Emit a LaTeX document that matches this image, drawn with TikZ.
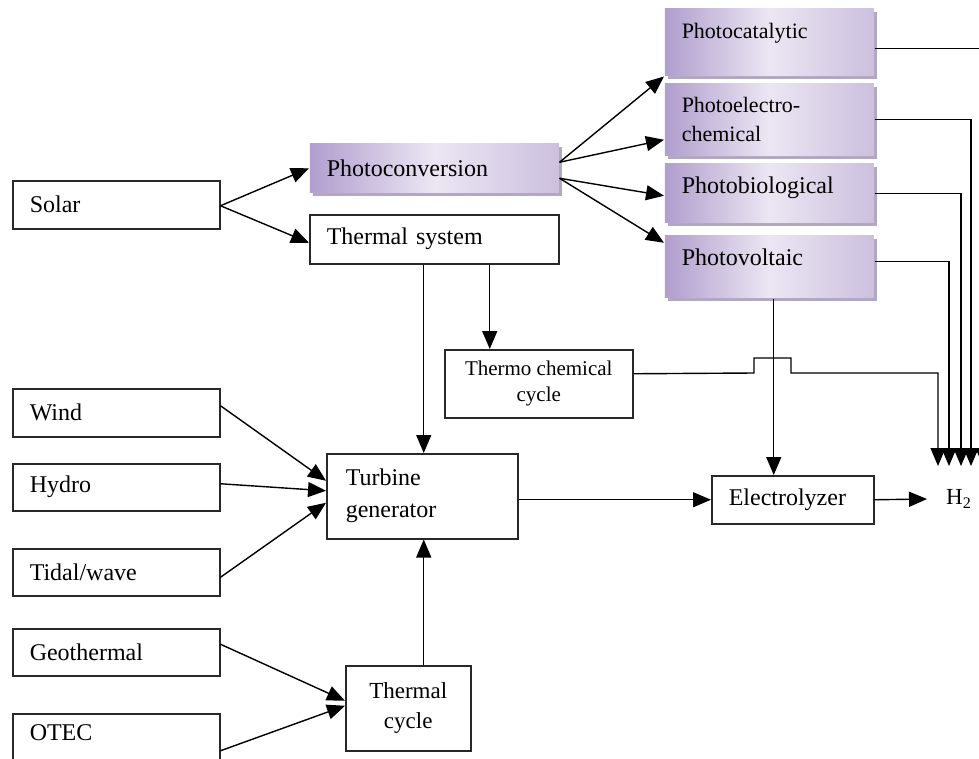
\documentclass[tikz,border=0pt]{standalone}
\usepackage{fontspec}
\setmainfont{Liberation Serif}
\usetikzlibrary{arrows.meta,shadows}
\definecolor{pdark}{RGB}{176,158,205}
\definecolor{plight}{RGB}{236,230,243}
\definecolor{pmid}{RGB}{204,192,222}
\definecolor{pshadow}{RGB}{170,160,186}
\definecolor{bord}{RGB}{40,40,40}
\tikzset{
  box/.style={draw=bord, line width=1.5pt, anchor=north west, inner xsep=17pt, inner ysep=0pt,
    align=left, font=\fontsize{24}{32}\selectfont},
  pbox/.style={box, draw=none, left color=pdark, right color=pmid, middle color=plight,
    drop shadow={shadow xshift=3pt, shadow yshift=-3pt, fill=pshadow, opacity=0.9}},
  arr/.style={draw=black, line width=1.4pt, -{Triangle[length=18pt,width=15pt]}},
}
\begin{document}
\begin{tikzpicture}[x=1pt,y=-1pt]
\useasboundingbox (0,0) rectangle (979,758);
\clip (0,0) rectangle (979,758);
% left sources
\node[box, minimum width=207pt, minimum height=48pt, text width=173pt] (solar) at (12,180) {Solar};
\node[box, minimum width=207pt, minimum height=48pt, text width=173pt] (wind) at (12,388) {Wind};
\node[box, minimum width=207pt, minimum height=47pt, text width=173pt] (hydro) at (12,463) {Hydro};
\node[box, minimum width=207pt, minimum height=47pt, text width=173pt] (tidal) at (12,548) {Tidal/wave};
\node[box, minimum width=207pt, minimum height=47pt, text width=173pt] (geo) at (12,628) {Geothermal};
\node[box, minimum width=207pt, minimum height=50pt, text width=173pt, text depth=12pt] (otec) at (12,713) {OTEC};
% middle
\node[pbox, minimum width=249pt, minimum height=49pt, text width=215pt] (photoconv) at (309,143) {Photoconversion};
\node[box, minimum width=249pt, minimum height=49pt, text width=215pt] (thermsys) at (309,214) {Thermal system};
% photo boxes
\node[pbox, minimum width=209pt, minimum height=67pt, text width=175pt, text depth=23pt,
  font=\fontsize{22}{29}\selectfont] (pcat) at (664,8) {Photocatalytic};
\node[pbox, minimum width=209pt, minimum height=72pt, text width=175pt,
  font=\fontsize{22}{29}\selectfont] (pelec) at (664,83) {Photoelectro-\\chemical};
\node[pbox, minimum width=209pt, minimum height=59pt, text width=175pt, text depth=17pt] (pbio) at (664,163) {Photobiological};
\node[pbox, minimum width=209pt, minimum height=62pt, text width=175pt, text depth=19pt] (pvolt) at (664,235) {Photovoltaic};
% others
\node[box, minimum width=188pt, minimum height=68pt, inner xsep=9pt, align=center,
  font=\fontsize{21}{26}\selectfont] (thermochem) at (444,349) {Thermo chemical\\cycle};
\node[box, minimum width=191pt, minimum height=85pt, text width=153pt, inner xsep=19pt] (turbine) at (326,453) {Turbine\\generator};
\node[box, minimum width=125pt, minimum height=85pt, inner xsep=6pt, align=center,
  font=\fontsize{23}{30}\selectfont] (thermcycle) at (345,665) {Thermal\\cycle};
\node[box, minimum width=162pt, minimum height=48pt, text width=128pt] (electro) at (711,475) {Electrolyzer};
\node[inner sep=0pt, anchor=west, font=\fontsize{23}{26}\selectfont] (h2) at (946,499) {H\textsubscript{2}};
% collector arrow ends
\coordinate (hT) at (938,466);
\coordinate (hV) at (949,466);
\coordinate (hB) at (961,466);
\coordinate (hE) at (971,466);
\coordinate (hC) at (983,466);
% solar arrows
\draw[arr] ([yshift=-1pt]solar.east) -- (photoconv.west);
\draw[arr] ([yshift=-1pt]solar.east) -- ([yshift=-3.5pt]thermsys.west);
% photoconversion arrows
\draw[arr] ([yshift=6pt]photoconv.east) -- (pcat.south west);
\draw[arr] ([yshift=6pt]photoconv.east) -- ([yshift=-20pt]pelec.west);
\draw[arr] ([yshift=-10pt]photoconv.east) -- ([yshift=-2.5pt]pbio.west);
\draw[arr] ([yshift=-10pt]photoconv.east) -- ([yshift=24pt]pvolt.west);
% thermal system
\coordinate (ta) at ([xshift=-10.5pt]thermsys.south);
\coordinate (tb) at ([xshift=55.5pt]thermsys.south);
\draw[arr] (ta) -- (ta |- turbine.north);
\draw[arr] (tb) -- (tb |- thermochem.north);
% renewable sources into turbine
\draw[arr] ([yshift=7pt]wind.east) -- ([yshift=15.5pt]turbine.west);
\draw[arr] ([yshift=3.5pt]hydro.east) -- ([yshift=5.5pt]turbine.west);
\draw[arr] ([yshift=-5pt]tidal.east) -- ([yshift=-6.5pt]turbine.west);
\draw[arr] ([yshift=8pt]geo.east) -- ([yshift=7.5pt]thermcycle.west);
\draw[arr] ([yshift=-12pt]otec.east) -- ([yshift=2.5pt]thermcycle.west);
% thermal cycle to turbine
\coordinate (tc) at ([xshift=15.5pt]thermcycle.north);
\draw[arr] (tc) -- (tc |- turbine.south);
% turbine to electrolyzer
\draw[arr] (turbine.east |- electro.west) -- (electro.west);
% photovoltaic to electrolyzer
\coordinate (pv) at ([xshift=4.5pt]pvolt.south);
\draw[arr] (pv) -- (pv |- electro.north);
% electrolyzer to H2
\draw[arr] (electro.east) -- ([xshift=-19pt]h2.west);
% collectors
\draw[arr] ([yshift=10pt]thermochem.east) -- (754,373) -- (754,358) -- (791,358) -- (791,373) -- (938,373) -- (hT);
\draw[arr] ([yshift=5pt]pvolt.east) -| (hV);
\draw[arr] (pbio.east) -| (hB);
\draw[arr] (pelec.east) -| (hE);
\draw[arr] ([yshift=-6.5pt]pcat.east) -| (hC);
\end{tikzpicture}
\end{document}
